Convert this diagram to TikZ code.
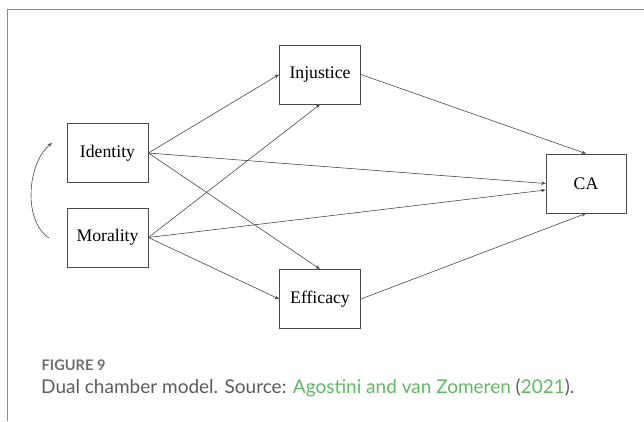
\documentclass[tikz,border=0pt]{standalone}
\usepackage{fontspec}
\setmainfont{Liberation Serif}
\newfontfamily\capfont{Lato}
\usetikzlibrary{arrows.meta}
\definecolor{framegray}{HTML}{8A8A8A}
\definecolor{boxgray}{HTML}{4A4A4A}
\definecolor{capgray}{HTML}{5C5C5C}
\definecolor{figgray}{HTML}{6E6E6E}
\definecolor{linkgreen}{HTML}{5CBB5F}
\tikzset{
  varbox/.style={draw=boxgray, line width=0.8pt, inner sep=0pt,
    minimum width=81pt, minimum height=59pt,
    font=\fontsize{17.7}{20}\selectfont},
  path/.style={draw=boxgray, line width=0.6pt,
    -{Stealth[length=4.5pt,width=3.5pt]}},
  framestyle/.style={draw=framegray, line width=1.2pt}
}
\begin{document}
\begin{tikzpicture}[x=1pt,y=-1pt]
\useasboundingbox (0,0) rectangle (644,421);
\draw[framestyle] (7.5,421) -- (7.5,9.5) -- (644,9.5);
\node[varbox] (inj) at (320,74.5) {Injustice};
\node[varbox] (ide) at (107.5,153) {Identity};
\node[varbox] (mor) at (107.5,237.5) {Morality};
\node[varbox] (eff) at (320,299) {Efficacy};
\node[varbox, minimum width=80pt] (ca) at (586,183.5) {CA};
\draw[path] (ide.east) -- (inj.west);
\draw[path] (ide.east) -- (ca.west);
\draw[path] (ide.east) -- (eff.north);
\draw[path] (mor.east) -- (inj.south);
\draw[path] (mor.east) -- ([yshift=-6.5pt]ca.west);
\draw[path] (mor.east) -- (eff.west);
\draw[path] (inj.east) -- (ca.north);
\draw[path] (eff.east) -- (ca.south);
\coordinate (cb) at (49,238);
\coordinate (ct) at (52,143);
\draw[path] (cb) .. controls (22,220) and (28,162) .. (ct);
\node[anchor=base west, inner sep=0pt, text=figgray,
  font=\capfont\bfseries\fontsize{14.6}{16}\selectfont] (fig) at (41.5,370) {FIGURE 9};
\node[anchor=base west, inner sep=0pt, text=capgray,
  font=\capfont\fontsize{19}{22}\selectfont] (cap) at (41,393)
  {Dual chamber model. Source: \textcolor{linkgreen}{Agostini and van Zomeren} (\textcolor{linkgreen}{2021}).};
\end{tikzpicture}
\end{document}
